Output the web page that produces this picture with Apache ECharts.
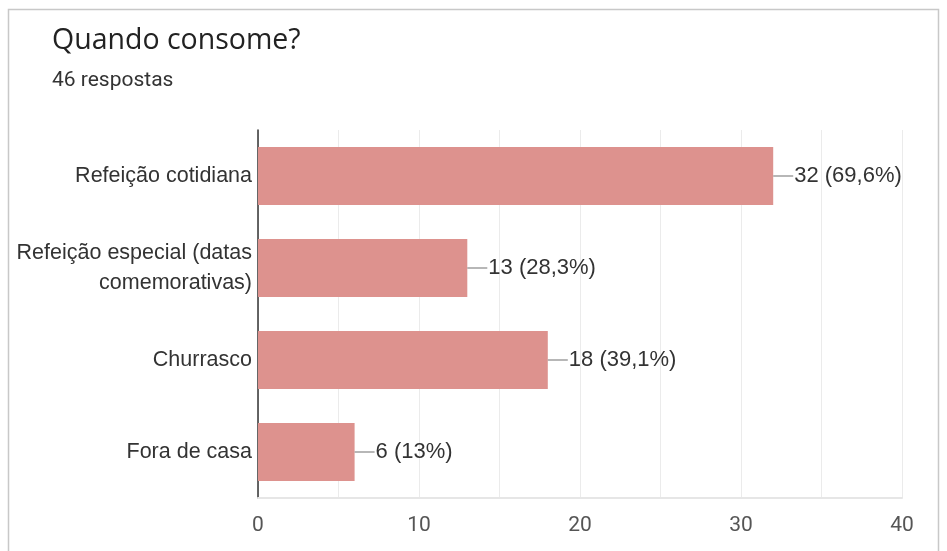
<!DOCTYPE html>
<html><head><meta charset="utf-8">
<script src="https://cdn.jsdelivr.net/npm/echarts@6/dist/echarts.min.js"></script>
<style>html,body{margin:0;padding:0;background:#fff}#c{width:947px;height:551px}</style>
</head><body><div id="c"></div>
<script>
const categories = ['Refeição cotidiana', 'Refeição especial (datas\ncomemorativas)', 'Churrasco', 'Fora de casa'];
const values = [32, 13, 18, 6];
const percents = ['69,6%', '28,3%', '39,1%', '13%'];
const titleText = 'Quando consome?';
const subtitleText = '46 respostas';

const chart = echarts.init(document.getElementById('c'), null, {renderer: 'canvas'});
chart.setOption({
  animation: false,
  textStyle: {fontFamily: 'Liberation Sans'},
  graphic: [{
    type: 'rect', shape: {x: 8.5, y: 9.5, width: 930, height: 600},
    style: {fill: 'none', stroke: '#c8c8c8', lineWidth: 1.5}, silent: true
  }],
  title: {
    text: titleText, subtext: subtitleText, left: 47, top: 21, itemGap: 15,
    textStyle: {fontSize: 28.5, fontWeight: 'normal', color: '#222', fontFamily: 'Open Sans'},
    subtextStyle: {fontSize: 21, color: '#333', fontFamily: 'Roboto'}
  },
  grid: {left: 258, right: 45, top: 130, bottom: 53, containLabel: false},
  xAxis: {
    type: 'value', min: 0, max: 40, interval: 5,
    axisLine: {show: true, lineStyle: {color: '#e6e6e6', width: 2}},
    axisTick: {show: false},
    splitLine: {show: true, lineStyle: {color: '#ebebeb', width: 1}},
    axisLabel: {margin: 17, fontSize: 21, color: '#555', fontFamily: 'Roboto',
      formatter: v => (v % 10 === 0 ? String(v) : '')}
  },
  yAxis: {
    type: 'category', data: categories, inverse: true,
    axisLine: {show: true, lineStyle: {color: '#333', width: 1.5}},
    axisTick: {show: false},
    axisLabel: {margin: 6, fontSize: 21.5, color: '#333', lineHeight: 30, align: 'right'}
  },
  series: [{
    type: 'bar', data: values, barWidth: '63%',
    itemStyle: {color: '#dd928e'},
    label: {
      show: true, position: 'right', distance: 0,
      formatter: p => '{l|}{t|' + p.value + ' (' + percents[p.dataIndex] + ')}',
      rich: {
        l: {width: 20, height: 1.2, backgroundColor: '#888'},
        t: {fontSize: 22, color: '#333', padding: [0, 0, 0, 1], fontFamily: 'Liberation Sans'}
      }
    }
  }]
});
</script></body></html>
